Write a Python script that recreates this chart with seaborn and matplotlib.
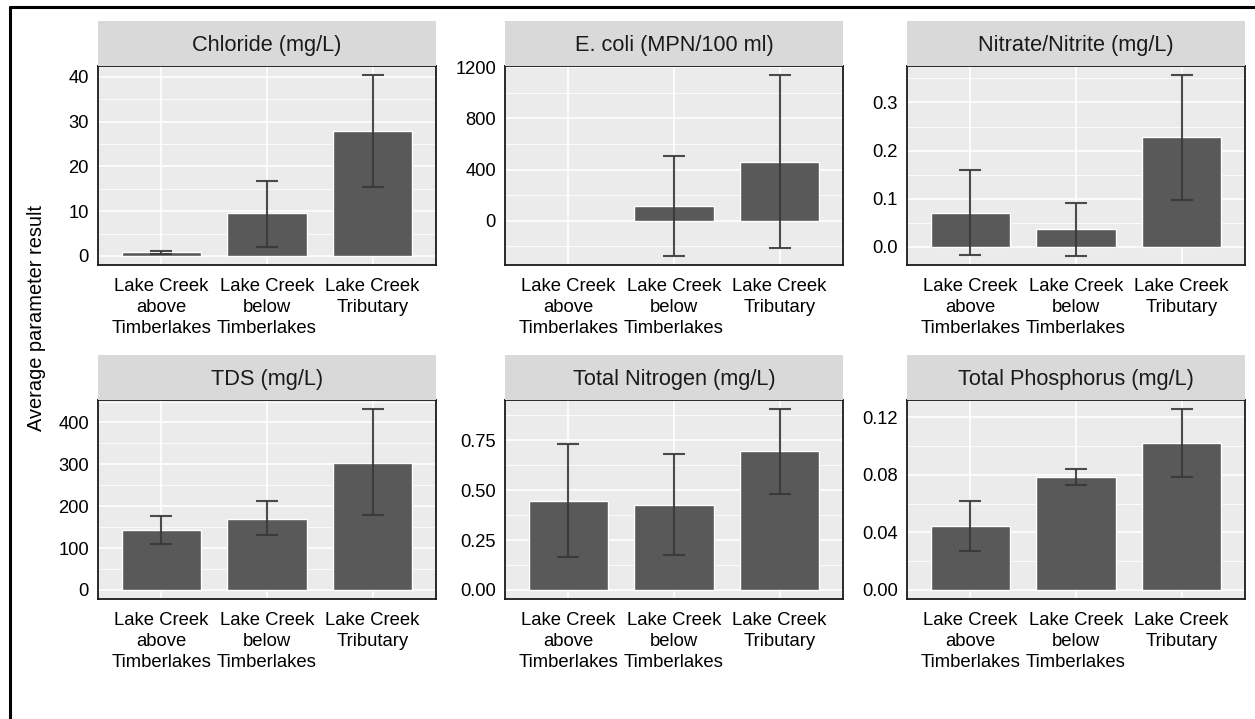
import numpy as np
import pandas as pd
import matplotlib
matplotlib.use("Agg")
import matplotlib.pyplot as plt
from matplotlib.lines import Line2D
from matplotlib.ticker import FixedLocator, AutoMinorLocator
import seaborn as sns

# ---------------- data ----------------
sites = ["Lake Creek\nabove\nTimberlakes", "Lake Creek\nbelow\nTimberlakes", "Lake Creek\nTributary"]
params = ["Chloride (mg/L)", "E. coli (MPN/100 ml)", "Nitrate/Nitrite (mg/L)",
          "TDS (mg/L)", "Total Nitrogen (mg/L)", "Total Phosphorus (mg/L)"]

chloride_mean = [0.8, 9.5, 27.8]
chloride_low = [0.4, 2.1, 15.5]
chloride_high = [1.2, 16.8, 40.4]

ecoli_mean = [np.nan, 112, 460]
ecoli_low = [np.nan, -277, -213]
ecoli_high = [np.nan, 506, 1140]

nitrate_mean = [0.070, 0.036, 0.228]
nitrate_low = [-0.018, -0.019, 0.098]
nitrate_high = [0.159, 0.092, 0.357]

tds_mean = [142, 170, 304]
tds_low = [110, 132, 178]
tds_high = [176, 212, 432]

tn_mean = [0.448, 0.426, 0.695]
tn_low = [0.164, 0.174, 0.481]
tn_high = [0.732, 0.683, 0.907]

tp_mean = [0.0447, 0.0783, 0.1022]
tp_low = [0.0271, 0.0730, 0.0788]
tp_high = [0.0621, 0.0839, 0.1258]

yticks = {
    "Chloride (mg/L)": ([0, 10, 20, 30, 40], ["0", "10", "20", "30", "40"]),
    "E. coli (MPN/100 ml)": ([0, 400, 800, 1200], ["0", "400", "800", "1200"]),
    "Nitrate/Nitrite (mg/L)": ([0.0, 0.1, 0.2, 0.3], ["0.0", "0.1", "0.2", "0.3"]),
    "TDS (mg/L)": ([0, 100, 200, 300, 400], ["0", "100", "200", "300", "400"]),
    "Total Nitrogen (mg/L)": ([0.0, 0.25, 0.5, 0.75], ["0.00", "0.25", "0.50", "0.75"]),
    "Total Phosphorus (mg/L)": ([0.0, 0.04, 0.08, 0.12], ["0.00", "0.04", "0.08", "0.12"]),
}

means = [chloride_mean, ecoli_mean, nitrate_mean, tds_mean, tn_mean, tp_mean]
lows = [chloride_low, ecoli_low, nitrate_low, tds_low, tn_low, tp_low]
highs = [chloride_high, ecoli_high, nitrate_high, tds_high, tn_high, tp_high]

rows = []
for p, m, lo, hi in zip(params, means, lows, highs):
    for s, a, b, c in zip(sites, m, lo, hi):
        rows.append({"param": p, "site": s, "mean": a, "low": b, "high": c})
df = pd.DataFrame(rows)

# ---------------- style ----------------
sns.set_style("white")
plt.rcParams["font.family"] = ["Liberation Sans", "DejaVu Sans"]

W, H = 1255, 719
fig = plt.figure(figsize=(W / 100, H / 100), dpi=100)

col_left = [98, 505, 907]
panel_w = 338
row_top = [66, 400]
panel_h = 199
strip_h = 45

bar_color = "#595959"
err_color = (0.22, 0.22, 0.22)

for i, p in enumerate(params):
    r, c = divmod(i, 3)
    x0 = col_left[c]
    ytop = row_top[r]
    ax = fig.add_axes([x0 / W, 1 - (ytop + panel_h) / H, panel_w / W, panel_h / H])
    sub = df[df["param"] == p].dropna()
    sns.barplot(data=sub, x="site", y="mean", order=sites, color=bar_color,
                saturation=1, width=0.75, errorbar=None, ax=ax, zorder=3)
    pos = [sites.index(s) for s in sub["site"]]
    ax.errorbar(pos, sub["mean"], yerr=[sub["mean"] - sub["low"], sub["high"] - sub["mean"]],
                fmt="none", ecolor=err_color, alpha=0.9, elinewidth=1.5, capsize=7.6,
                capthick=1.5, zorder=4)
    # scales like ggplot (5% expansion, 0.6 discrete)
    lo = min(0, np.nanmin(sub["low"]))
    hi = max(np.nanmax(sub["high"]), np.nanmax(sub["mean"]))
    rng = hi - lo
    ax.set_ylim(lo - 0.05 * rng, hi + 0.05 * rng)
    ax.set_xlim(-0.6, len(sites) - 0.4)
    ticks, labels = yticks[p]
    ax.yaxis.set_major_locator(FixedLocator(ticks))
    ax.set_yticklabels(labels)
    ax.yaxis.set_minor_locator(AutoMinorLocator(2))
    ax.set_xticks(range(len(sites)))
    ax.set_xticklabels(sites, linespacing=1.3)
    ax.set_facecolor("#EBEBEB")
    ax.grid(True, which="major", color="white", linewidth=1.2, zorder=0)
    ax.grid(True, which="minor", axis="y", color="white", linewidth=0.6, zorder=0)
    ax.set_axisbelow(True)
    ax.set_xlabel("")
    ax.set_ylabel("")
    for sp in ax.spines.values():
        sp.set_visible(True)
        sp.set_color("#1a1a1a")
        sp.set_linewidth(1.3)
    ax.tick_params(axis="both", which="major", length=4, width=1.3, color="#333333",
                   labelsize=13.2, labelcolor="black", pad=2.5)
    ax.tick_params(axis="x", labelsize=13.3, pad=5.5)
    ax.tick_params(axis="y", which="minor", length=0)
    # strip
    sax = fig.add_axes([x0 / W, 1 - ytop / H, panel_w / W, strip_h / H])
    sax.set_facecolor("#D9D9D9")
    sax.set_xticks([])
    sax.set_yticks([])
    for sp in sax.spines.values():
        sp.set_visible(False)
    sax.text(0.5, 0.45, p, ha="center", va="center", fontsize=15.7, color="#1a1a1a",
             transform=sax.transAxes)

fig.text(37 / W, 1 - 318 / H, "Average parameter result", rotation=90,
         ha="center", va="center", fontsize=14.4, color="black")

# outer border (left and top edges visible)
fig.add_artist(Line2D([10 / W, 10 / W], [0, 1 - 7 / H], transform=fig.transFigure,
                      color="black", linewidth=2.2))
fig.add_artist(Line2D([10 / W, 1], [1 - 7 / H, 1 - 7 / H], transform=fig.transFigure,
                      color="black", linewidth=2.2))

fig.savefig("out.png", dpi=100, facecolor="white")
